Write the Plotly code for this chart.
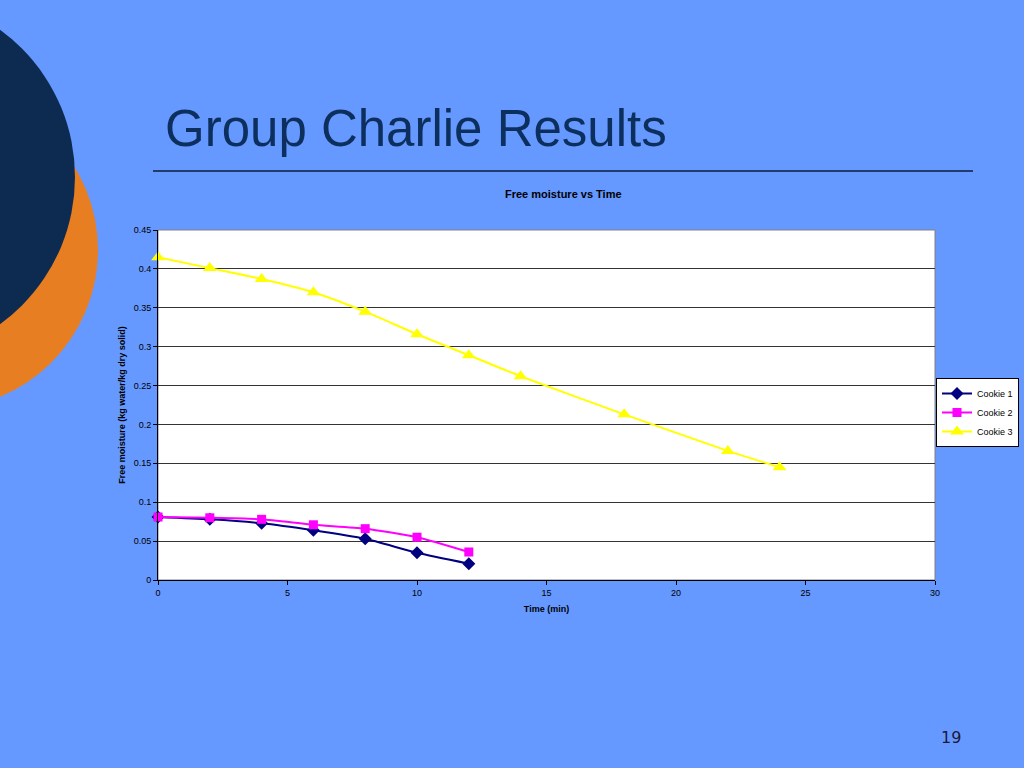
import plotly.graph_objects as go

time_c12 = [0, 2, 4, 6, 8, 10, 12]
cookie1 = [0.081, 0.078, 0.073, 0.064, 0.053, 0.035, 0.021]
cookie2 = [0.081, 0.080, 0.078, 0.071, 0.066, 0.055, 0.036]
time_c3 = [0, 2, 4, 6, 8, 10, 12, 14, 18, 22, 24]
cookie3 = [0.415, 0.401, 0.387, 0.370, 0.345, 0.316, 0.289, 0.262, 0.213, 0.166, 0.145]

x_ticks = [0, 5, 10, 15, 20, 25, 30]
y_ticks = [0, 0.05, 0.1, 0.15, 0.2, 0.25, 0.3, 0.35, 0.4, 0.45]
y_tick_labels = ["0", "0.05", "0.1", "0.15", "0.2", "0.25", "0.3", "0.35", "0.4", "0.45"]

W, H = 1024, 768
L, R, T, B = 158, 935, 230, 580
BG = "#6699FF"
NAVY = "#0D2F5E"
FONT = "Liberation Sans, Arial, sans-serif"


def px(x):
    return (x - L) / (R - L)


def py(y):
    return (B - y) / (B - T)


fig = go.Figure()
fig.add_trace(go.Scatter(
    x=time_c12, y=cookie1, name="Cookie 1", mode="lines+markers",
    line=dict(color="#000080", width=2, shape="spline", smoothing=0.6),
    marker=dict(symbol="diamond", size=10, color="#000080"), cliponaxis=False))
fig.add_trace(go.Scatter(
    x=time_c12, y=cookie2, name="Cookie 2", mode="lines+markers",
    line=dict(color="#FF00FF", width=2, shape="spline", smoothing=0.6),
    marker=dict(symbol="square", size=9, color="#FF00FF"), cliponaxis=False))
fig.add_trace(go.Scatter(
    x=time_c3, y=cookie3, name="Cookie 3", mode="lines+markers",
    line=dict(color="#FFFF00", width=2, shape="spline", smoothing=0.6),
    marker=dict(symbol="triangle-up", size=12, color="#FFFF00"), cliponaxis=False))

shapes = [
    dict(type="circle", xref="paper", yref="paper", layer="below",
         x0=px(-61 - 159), x1=px(-61 + 159), y0=py(250 + 159), y1=py(250 - 159),
         fillcolor="#E87E22", line=dict(width=0)),
    dict(type="circle", xref="paper", yref="paper", layer="below",
         x0=px(-107 - 182), x1=px(-107 + 182), y0=py(177 + 182), y1=py(177 - 182),
         fillcolor="#0D2B50", line=dict(width=0)),
    dict(type="line", xref="paper", yref="paper",
         x0=px(153), x1=px(973), y0=py(171), y1=py(171),
         line=dict(color="#0D1F3A", width=1.5)),
    dict(type="rect", xref="paper", yref="paper", x0=0, x1=1, y0=0, y1=1,
         line=dict(color="#808080", width=1), layer="below"),
]

annotations = [
    dict(text="Group Charlie Results", xref="paper", yref="paper",
         x=px(163), y=py(128), xanchor="left", yanchor="middle", showarrow=False,
         font=dict(family=FONT, size=51, color=NAVY)),
    dict(text="<b>Free moisture vs Time</b>", xref="paper", yref="paper",
         x=px(563), y=py(194), xanchor="center", yanchor="middle", showarrow=False,
         font=dict(family=FONT, size=11, color="#000000")),
    dict(text="19", xref="paper", yref="paper",
         x=px(951), y=py(737), xanchor="center", yanchor="middle", showarrow=False,
         font=dict(family="DejaVu Sans, sans-serif", size=16, color="#1A1A3A")),
]

fig.update_layout(
    width=W, height=H,
    margin=dict(l=L, r=W - R, t=T, b=H - B, pad=0, autoexpand=False),
    paper_bgcolor=BG, plot_bgcolor="#FFFFFF",
    font=dict(family=FONT, size=9, color="#000000"),
    shapes=shapes, annotations=annotations,
    showlegend=True,
    legend=dict(x=px(1019), y=py(378), xanchor="right", yanchor="top",
                bgcolor="#FFFFFF", bordercolor="#000000", borderwidth=1,
                font=dict(family=FONT, size=9, color="#000000"),
                tracegroupgap=0, itemwidth=30),
    xaxis=dict(range=[0, 30], tickvals=x_ticks, showgrid=False, zeroline=False,
               showline=True, linecolor="#000000", linewidth=1,
               ticks="outside", ticklen=4, tickcolor="#000000",
               tickfont=dict(family=FONT, size=9, color="#000000"),
               title=dict(text="<b>Time (min)</b>", standoff=8,
                          font=dict(family=FONT, size=9, color="#000000"))),
    yaxis=dict(range=[0, 0.45], tickvals=y_ticks, ticktext=y_tick_labels,
               showgrid=True, gridcolor="#333333", gridwidth=1, zeroline=False,
               showline=True, linecolor="#000000", linewidth=1,
               ticks="outside", ticklen=4, tickcolor="#000000",
               tickfont=dict(family=FONT, size=9, color="#000000"),
               title=dict(text="<b>Free moisture (kg water/kg dry solid)</b>", standoff=6,
                          font=dict(family=FONT, size=9, color="#000000"))),
)

fig.write_html("out.html", config={"displayModeBar": False},
               post_script="document.body.style.margin='0';document.body.style.overflow='hidden';")
